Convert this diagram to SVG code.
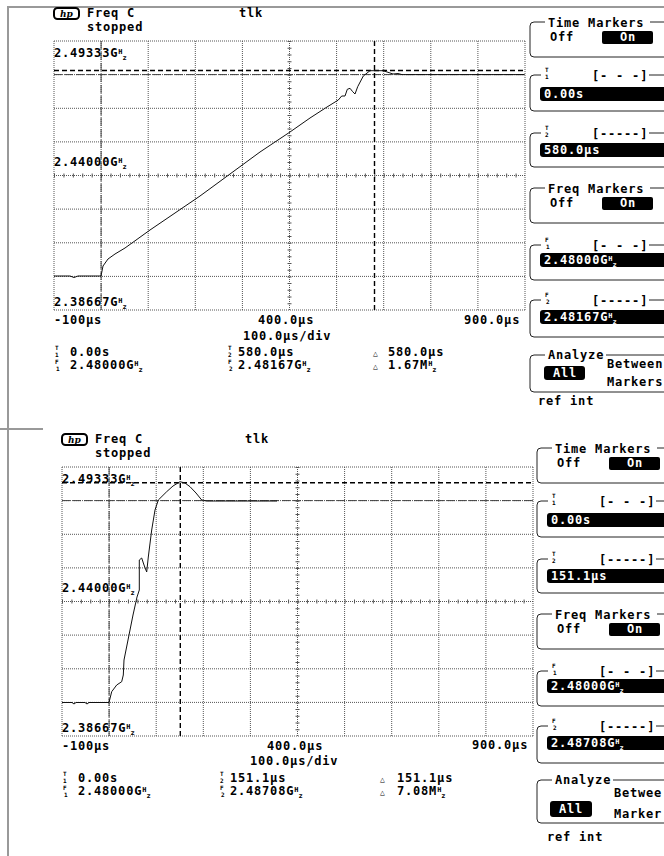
<svg xmlns="http://www.w3.org/2000/svg" width="664" height="856" viewBox="0 0 664 856">
<style>
.t{font-family:"DejaVu Sans Mono","Liberation Mono",monospace;font-weight:bold;font-size:12px;letter-spacing:0.8px;fill:#000}
.w{fill:#fff}
.s{font-size:7px;letter-spacing:0}
.sl{font-size:6px;letter-spacing:0}
.m{text-anchor:middle}
.grid{fill:none;stroke:#555;stroke-width:1;stroke-dasharray:1 1}
.box{fill:none;stroke:#222;stroke-width:1}
.fld{fill:#000}
.trace{fill:none;stroke:#111;stroke-width:1;stroke-linejoin:round}
.mk1{fill:none;stroke:#444;stroke-width:1;stroke-dasharray:8 3}
.mk2{fill:none;stroke:#000;stroke-width:1.4;stroke-dasharray:5 3}
.frame{fill:none;stroke:#999;stroke-width:2}
</style>
<defs>
<g id="grid">
<path class="grid" d="M54 41V310M101.1 41V310M148.2 41V310M195.3 41V310M242.4 41V310M289.5 41V310M336.6 41V310M383.7 41V310M430.8 41V310M477.9 41V310M525 41V310M54 41H525M54 74.6H525M54 108.3H525M54 141.9H525M54 175.5H525M54 209.1H525M54 242.8H525M54 276.4H525M54 310H525"/>
<path d="M289.5 41V310" fill="none" stroke="#555" stroke-width="4" stroke-dasharray="1 5.725"/>
<path d="M54 175.5H525" fill="none" stroke="#555" stroke-width="4" stroke-dasharray="1 8.42"/>
</g>
<g id="hplogo">
<rect x="0" y="0" width="25" height="11" rx="3.5" fill="#fff" stroke="#000" stroke-width="2"/>
<text x="12.5" y="8.7" class="t m" style="font-family:'DejaVu Serif',serif;font-style:italic;font-size:9px;letter-spacing:0">hp</text>
</g>
</defs>

<path id="frame" class="frame" d="M8 856V7H664M0 429H43"/>

<g id="screen-top">
<use href="#hplogo" x="54" y="8"/>
<text class="t" x="87" y="17">Freq C</text>
<text class="t" x="239" y="17">tlk</text>
<text class="t" x="87" y="31">stopped</text>
<use href="#grid"/>
<g id="markers-top">
<path class="mk1" d="M101.1 41V310M54 74.6H525"/>
<path class="mk2" d="M374.5 41V310M54 70.5H525"/>
</g>
<polyline id="trace-top" class="trace" points="54,276 70,276 74,277.5 78,276 101,276 103,266 108,259 115,254 125,248 150,230 175,213 200,196 230,174 260,152 290,132 310,118 327,107 338.3,100 341.7,96 345,96 347.3,89.3 350,88.3 352.7,91.7 355,94 357.7,86.7 363.3,76 370,70.7 383,70.7 388,72.3 393,74 398,73.5 402,74.6 524,74.6"/>
<text class="t" x="54" y="57">2.49333G<tspan class="s" dy="-3.5">H</tspan><tspan class="s" dy="6">z</tspan></text>
<text class="t" x="54" y="166">2.44000G<tspan class="s" dy="-3.5">H</tspan><tspan class="s" dy="6">z</tspan></text>
<text class="t" x="54" y="306">2.38667G<tspan class="s" dy="-3.5">H</tspan><tspan class="s" dy="6">z</tspan></text>
<text class="t" x="54" y="324">-100µs</text>
<text class="t" x="258" y="324">400.0µs</text>
<text class="t" x="464" y="324">900.0µs</text>
<text class="t" x="243" y="340">100.0µs/div</text>
<text class="t sl" x="55" y="350">T</text><text class="t sl" x="55" y="357">1</text>
<text class="t" x="70" y="356">0.00s</text>
<text class="t sl" x="55" y="364">F</text><text class="t sl" x="56" y="371">1</text>
<text class="t" x="70" y="369">2.48000G<tspan class="s" dy="-3.5">H</tspan><tspan class="s" dy="6">z</tspan></text>
<text class="t sl" x="228" y="350">T</text><text class="t sl" x="228" y="357">2</text>
<text class="t" x="238" y="356">580.0µs</text>
<text class="t sl" x="228" y="364">F</text><text class="t sl" x="229" y="371">2</text>
<text class="t" x="238" y="369">2.48167G<tspan class="s" dy="-3.5">H</tspan><tspan class="s" dy="6">z</tspan></text>
<text class="t" x="373" y="356" style="font-size:8px">△</text>
<text class="t" x="388" y="356">580.0µs</text>
<text class="t" x="373" y="369" style="font-size:8px">△</text>
<text class="t" x="388" y="369">1.67M<tspan class="s" dy="-3.5">H</tspan><tspan class="s" dy="6">z</tspan></text>
</g>

<g id="panel-top">
<g id="time-markers-top">
<path class="box" d="M545 22H534Q530 22 530 26V53Q530 57 534 57H664M650 22H664"/>
<text class="t" x="548" y="27">Time Markers</text>
<text class="t" x="550" y="41">Off</text>
<rect class="fld" x="602" y="31" width="51" height="13" rx="2"/>
<text class="t w m" x="628" y="41">On</text>
</g>
<g id="t1-top">
<path class="box" d="M541 75H534Q530 75 530 79V107Q530 111 534 111H664M649 75H664"/>
<text class="t sl" x="545" y="72">T</text><text class="t sl" x="545" y="79">1</text>
<text class="t" x="592" y="80">[- - -]</text>
<rect class="fld" x="540" y="87" width="130" height="14" rx="3"/>
<text class="t w" x="544" y="98">0.00s</text>
</g>
<g id="t2-top">
<path class="box" d="M541 133H534Q530 133 530 137V163Q530 167 534 167H664M649 133H664"/>
<text class="t sl" x="545" y="130">T</text><text class="t sl" x="545" y="137">2</text>
<text class="t" x="592" y="138">[-----]</text>
<rect class="fld" x="540" y="143" width="130" height="14" rx="3"/>
<text class="t w" x="544" y="154">580.0µs</text>
</g>
<g id="freq-markers-top">
<path class="box" d="M545 188H534Q530 188 530 192V219Q530 223 534 223H664M650 188H664"/>
<text class="t" x="548" y="193">Freq Markers</text>
<text class="t" x="550" y="207">Off</text>
<rect class="fld" x="602" y="197" width="51" height="13" rx="2"/>
<text class="t w m" x="628" y="207">On</text>
</g>
<g id="f1-top">
<path class="box" d="M541 245H534Q530 245 530 249V276Q530 280 534 280H664M649 245H664"/>
<text class="t sl" x="545" y="242">F</text><text class="t sl" x="546" y="249">1</text>
<text class="t" x="592" y="250">[- - -]</text>
<rect class="fld" x="540" y="253" width="130" height="14" rx="3"/>
<text class="t w" x="544" y="264">2.48000G<tspan class="s" dy="-3.5">H</tspan><tspan class="s" dy="6">z</tspan></text>
</g>
<g id="f2-top">
<path class="box" d="M541 300H534Q530 300 530 304V333Q530 337 534 337H664M649 300H664"/>
<text class="t sl" x="545" y="297">F</text><text class="t sl" x="546" y="304">2</text>
<text class="t" x="592" y="305">[-----]</text>
<rect class="fld" x="540" y="310" width="130" height="14" rx="3"/>
<text class="t w" x="544" y="321">2.48167G<tspan class="s" dy="-3.5">H</tspan><tspan class="s" dy="6">z</tspan></text>
</g>
<g id="analyze-top">
<path class="box" d="M545 355H534Q530 355 530 359V388Q530 392 534 392H664M606 355H664"/>
<text class="t" x="548" y="359">Analyze</text>
<rect class="fld" x="544" y="366" width="41" height="14" rx="3"/>
<text class="t w m" x="565" y="377">All</text>
<text class="t" x="607" y="368">Between</text>
<text class="t" x="607" y="386">Markers</text>
</g>
<text id="refint-top" class="t" x="538" y="405">ref int</text>
</g>

<g id="screen-bottom">
<use href="#hplogo" x="62" y="434"/>
<text class="t" x="95" y="443">Freq C</text>
<text class="t" x="245" y="443">tlk</text>
<text class="t" x="95" y="457">stopped</text>
<use href="#grid" transform="translate(8,426)"/>
<g id="markers-bottom">
<path class="mk1" d="M109.1 467V736M62 500.6H533"/>
<path class="mk2" d="M180.3 467V736M62 482.8H533"/>
</g>
<polyline id="trace-bottom" class="trace" points="62,702.5 72,702.5 74,704 76,702.5 85,702.5 87,704 89,702.5 109,702.5 111.7,691.7 116.7,685 121.7,681.7 123.3,675 124,660 128,640 133,615 137,597 139.3,590 139.3,560 141.7,558 144,565 146.7,572 148.3,557 151.7,530 155,510 158.3,500 166.7,491.7 173,486 180,481.7 185,483 190,486.7 196,493 201.7,500 206.7,501 230,501 277,501"/>
<text class="t" x="62" y="483">2.49333G<tspan class="s" dy="-3.5">H</tspan><tspan class="s" dy="6">z</tspan></text>
<text class="t" x="62" y="592">2.44000G<tspan class="s" dy="-3.5">H</tspan><tspan class="s" dy="6">z</tspan></text>
<text class="t" x="62" y="732">2.38667G<tspan class="s" dy="-3.5">H</tspan><tspan class="s" dy="6">z</tspan></text>
<text class="t" x="62" y="750">-100µs</text>
<text class="t" x="267" y="750">400.0µs</text>
<text class="t" x="472" y="749">900.0µs</text>
<text class="t" x="250" y="765">100.0µs/div</text>
<text class="t sl" x="63" y="776">T</text><text class="t sl" x="63" y="783">1</text>
<text class="t" x="78" y="782">0.00s</text>
<text class="t sl" x="63" y="790">F</text><text class="t sl" x="64" y="797">1</text>
<text class="t" x="78" y="795">2.48000G<tspan class="s" dy="-3.5">H</tspan><tspan class="s" dy="6">z</tspan></text>
<text class="t sl" x="220" y="776">T</text><text class="t sl" x="220" y="783">2</text>
<text class="t" x="230" y="782">151.1µs</text>
<text class="t sl" x="220" y="790">F</text><text class="t sl" x="221" y="797">2</text>
<text class="t" x="230" y="795">2.48708G<tspan class="s" dy="-3.5">H</tspan><tspan class="s" dy="6">z</tspan></text>
<text class="t" x="380" y="782" style="font-size:8px">△</text>
<text class="t" x="397" y="782">151.1µs</text>
<text class="t" x="380" y="795" style="font-size:8px">△</text>
<text class="t" x="397" y="795">7.08M<tspan class="s" dy="-3.5">H</tspan><tspan class="s" dy="6">z</tspan></text>
</g>

<g id="panel-bottom">
<g id="time-markers-bottom" transform="translate(7,426)">
<path class="box" d="M545 22H534Q530 22 530 26V53Q530 57 534 57H664M650 22H664"/>
<text class="t" x="548" y="27">Time Markers</text>
<text class="t" x="550" y="41">Off</text>
<rect class="fld" x="602" y="31" width="51" height="13" rx="2"/>
<text class="t w m" x="628" y="41">On</text>
</g>
<g id="t1-bottom" transform="translate(7,426)">
<path class="box" d="M541 75H534Q530 75 530 79V107Q530 111 534 111H664M649 75H664"/>
<text class="t sl" x="545" y="72">T</text><text class="t sl" x="545" y="79">1</text>
<text class="t" x="592" y="80">[- - -]</text>
<rect class="fld" x="540" y="87" width="130" height="14" rx="3"/>
<text class="t w" x="544" y="98">0.00s</text>
</g>
<g id="t2-bottom" transform="translate(7,426)">
<path class="box" d="M541 133H534Q530 133 530 137V163Q530 167 534 167H664M649 133H664"/>
<text class="t sl" x="545" y="130">T</text><text class="t sl" x="545" y="137">2</text>
<text class="t" x="592" y="138">[-----]</text>
<rect class="fld" x="540" y="143" width="130" height="14" rx="3"/>
<text class="t w" x="544" y="154">151.1µs</text>
</g>
<g id="freq-markers-bottom" transform="translate(7,426)">
<path class="box" d="M545 188H534Q530 188 530 192V219Q530 223 534 223H664M650 188H664"/>
<text class="t" x="548" y="193">Freq Markers</text>
<text class="t" x="550" y="207">Off</text>
<rect class="fld" x="602" y="197" width="51" height="13" rx="2"/>
<text class="t w m" x="628" y="207">On</text>
</g>
<g id="f1-bottom" transform="translate(7,426)">
<path class="box" d="M541 245H534Q530 245 530 249V276Q530 280 534 280H664M649 245H664"/>
<text class="t sl" x="545" y="242">F</text><text class="t sl" x="546" y="249">1</text>
<text class="t" x="592" y="250">[- - -]</text>
<rect class="fld" x="540" y="253" width="130" height="14" rx="3"/>
<text class="t w" x="544" y="264">2.48000G<tspan class="s" dy="-3.5">H</tspan><tspan class="s" dy="6">z</tspan></text>
</g>
<g id="f2-bottom" transform="translate(7,426)">
<path class="box" d="M541 300H534Q530 300 530 304V333Q530 337 534 337H664M649 300H664"/>
<text class="t sl" x="545" y="297">F</text><text class="t sl" x="546" y="304">2</text>
<text class="t" x="592" y="305">[-----]</text>
<rect class="fld" x="540" y="310" width="130" height="14" rx="3"/>
<text class="t w" x="544" y="321">2.48708G<tspan class="s" dy="-3.5">H</tspan><tspan class="s" dy="6">z</tspan></text>
</g>
<g id="analyze-bottom">
<path class="box" d="M552 780H541Q537 780 537 784V819Q537 823 541 823H664M613 780H664"/>
<text class="t" x="555" y="784">Analyze</text>
<rect class="fld" x="550" y="801" width="42" height="16" rx="3"/>
<text class="t w m" x="571" y="813">All</text>
<text class="t" x="614" y="797">Betwee</text>
<text class="t" x="614" y="818">Marker</text>
</g>
<text id="refint-bottom" class="t" x="547" y="841">ref int</text>
</g>
</svg>
